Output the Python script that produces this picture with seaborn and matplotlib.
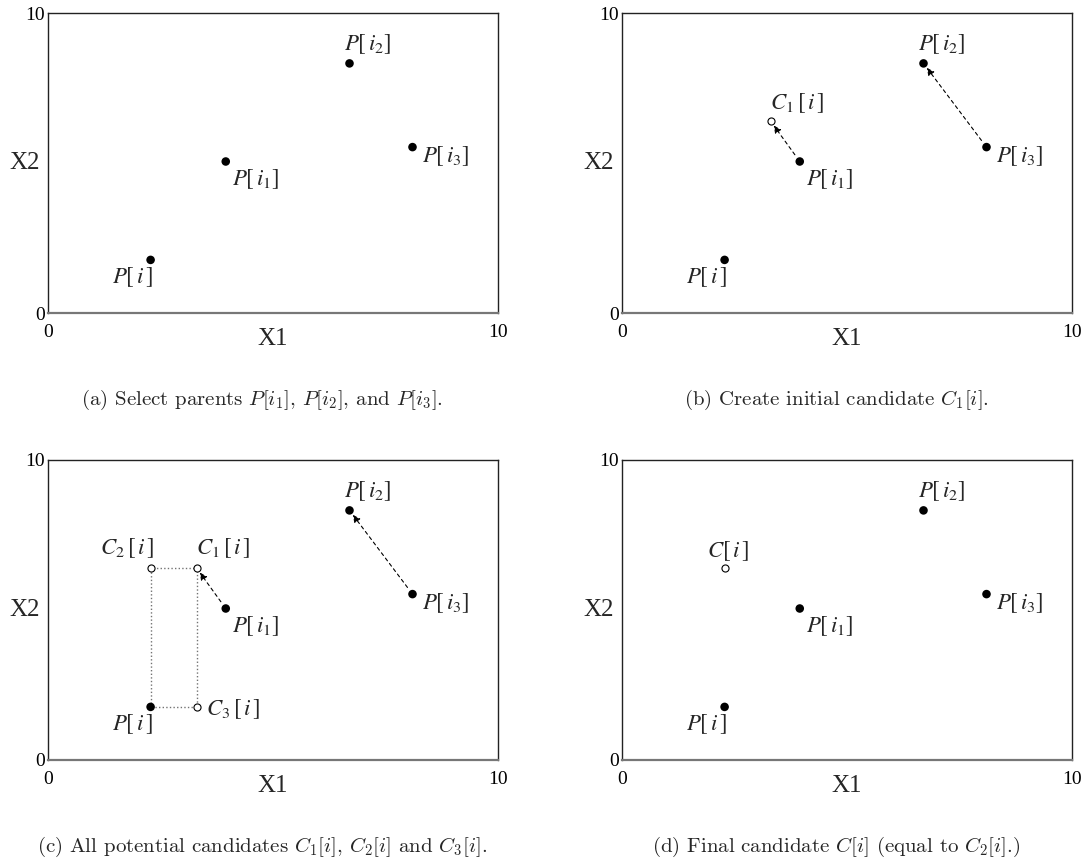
import matplotlib
matplotlib.use('Agg')
import matplotlib.pyplot as plt
import seaborn as sns

# Parent points P[i], P[i1], P[i2], P[i3]
parent_x = [2.28, 3.95, 6.70, 8.10]
parent_y = [1.77, 5.05, 8.32, 5.53]
parent_labels = [r'$P[\,i\,]$', r'$P[\,i_1]$', r'$P[\,i_2]$', r'$P[\,i_3]$']

# Candidate points C1[i], C2[i], C3[i]
cand_x = [3.30, 2.28, 3.30]
cand_y = [6.40, 6.40, 1.77]
cand_labels = [r'$C_1\,[\,i\,]$', r'$C_2\,[\,i\,]$', r'$C_3\,[\,i\,]$']
final_label = r'$C[\,i\,]$'

captions = [
    r'(a) Select parents $P[i_1]$, $P[i_2]$, and $P[i_3]$.',
    r'(b) Create initial candidate $C_1[i]$.',
    r'(c) All potential candidates $C_1[i]$, $C_2[i]$ and $C_3[i]$.',
    r'(d) Final candidate $C[i]$ (equal to $C_2[i]$.)',
]

sns.set_theme(style='white')
plt.rcParams['font.family'] = ['Liberation Serif', 'DejaVu Serif']

W, H = 1088, 866
fig = plt.figure(figsize=(W / 100, H / 100), dpi=100)

# axes boxes in pixels: left, top
boxes = [(48, 13), (622, 13), (48, 460), (622, 460)]
AW, AH = 450, 300


def px_axes(left, top):
    return fig.add_axes([left / W, (H - top - AH) / H, AW / W, AH / H])


def label(ax, text, x, y, dx, dy, ha='left'):
    # dx, dy in pixels (dy positive = downwards), anchored on baseline
    ax.annotate(text, (x, y), xytext=(dx, -dy), textcoords='offset pixels',
                ha=ha, va='baseline', fontsize=16.5, math_fontfamily='stix')


def arrow(ax, src, dst):
    ax.annotate('', xy=dst, xytext=src,
                arrowprops=dict(arrowstyle='-|>', linestyle=(0, (3, 3)), lw=0.8,
                                color='black', shrinkA=6, shrinkB=4,
                                mutation_scale=11))


def base(ax):
    ax.set_xlim(0, 10)
    ax.set_ylim(0, 10)
    ax.set_xticks([0, 10])
    ax.set_yticks([0, 10])
    ax.tick_params(length=0, labelsize=14, colors='black')
    ax.tick_params(axis='x', pad=8)
    ax.tick_params(axis='y', pad=2)
    for s in ax.spines.values():
        s.set_color('#222222')
        s.set_linewidth(1.0)
    ax.spines['bottom'].set_color('#777777')
    ax.spines['bottom'].set_linewidth(1.6)
    ax.set_xlabel('X1', fontsize=18, va='center')
    ax.xaxis.set_label_coords(0.5, -26 / AH)
    ax.set_ylabel('X2', fontsize=18, rotation=0, ha='right', va='center')
    ax.yaxis.set_label_coords(-8 / AW, 0.5)


def parents(ax, which=(0, 1, 2, 3)):
    sns.scatterplot(x=[parent_x[k] for k in which], y=[parent_y[k] for k in which],
                    ax=ax, color='black', s=38, edgecolor='none', zorder=4, legend=False)


def candidates(ax, xs, ys):
    sns.scatterplot(x=xs, y=ys, ax=ax, color='white', edgecolor='black',
                    linewidth=0.8, s=26, zorder=4, legend=False)


axes = [px_axes(*b) for b in boxes]
for ax in axes:
    base(ax)
    parents(ax)

# parent labels (same offsets in each panel)
for ax in axes:
    label(ax, parent_labels[0], parent_x[0], parent_y[0], 2, 23, ha='right')
    label(ax, parent_labels[1], parent_x[1], parent_y[1], 6, 24)
    label(ax, parent_labels[2], parent_x[2], parent_y[2], -6, -13)
    label(ax, parent_labels[3], parent_x[3], parent_y[3], 9, 15)

# (b) initial candidate
ax = axes[1]
candidates(ax, [cand_x[0]], [cand_y[0]])
label(ax, cand_labels[0], cand_x[0], cand_y[0], -1, -12)
arrow(ax, (parent_x[3], parent_y[3]), (parent_x[2], parent_y[2]))
arrow(ax, (parent_x[1], parent_y[1]), (cand_x[0], cand_y[0]))

# (c) all candidates with the dotted box
ax = axes[2]
box_x = [parent_x[0], cand_x[1], cand_x[0], cand_x[2], parent_x[0]]
box_y = [parent_y[0], cand_y[1], cand_y[0], cand_y[2], parent_y[0]]
ax.plot(box_x, box_y, color='0.45', lw=1.0, linestyle=(0, (1, 1.6)), zorder=2)
candidates(ax, cand_x, cand_y)
label(ax, cand_labels[0], cand_x[0], cand_y[0], -1, -14)
label(ax, cand_labels[1], cand_x[1], cand_y[1], 4, -14, ha='right')
label(ax, cand_labels[2], cand_x[2], cand_y[2], 10, 8)
arrow(ax, (parent_x[3], parent_y[3]), (parent_x[2], parent_y[2]))
arrow(ax, (parent_x[1], parent_y[1]), (cand_x[0], cand_y[0]))

# (d) final candidate
ax = axes[3]
candidates(ax, [cand_x[1]], [cand_y[1]])
label(ax, final_label, cand_x[1], cand_y[1], 4, -11, ha='center')

# captions
for (left, top), cap in zip(boxes, captions):
    fig.text((left + AW / 2 - 11) / W, 1 - (top + 387) / H, cap,
             ha='center', va='center', fontsize=15,
             family='cmr10', math_fontfamily='cm')

fig.savefig('out.png', dpi=100)
